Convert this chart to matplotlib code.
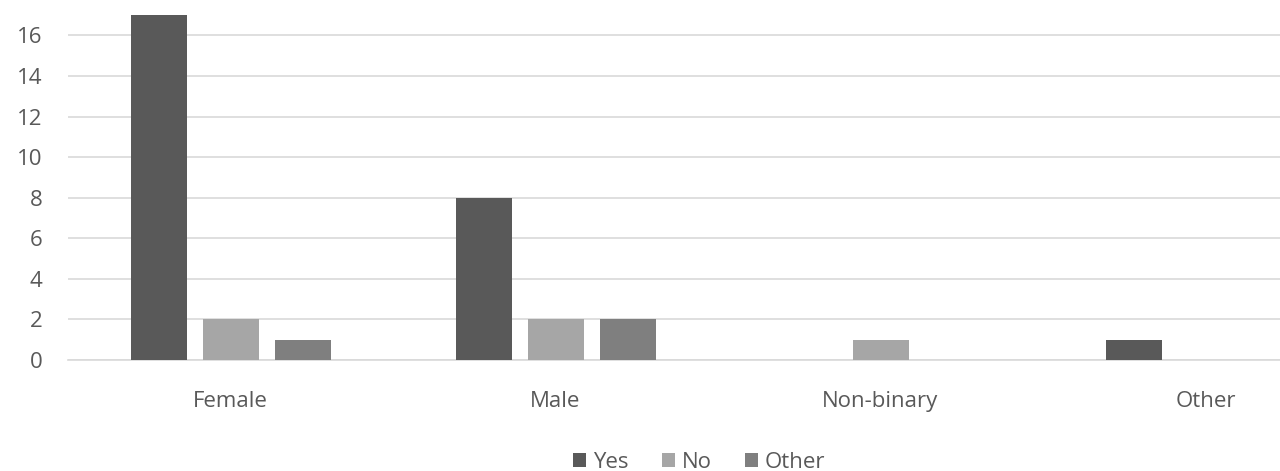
import matplotlib
matplotlib.use("Agg")
import matplotlib.pyplot as plt
import numpy as np

categories = ["Female", "Male", "Non-binary", "Other"]
series_names = ["Yes", "No", "Other"]
yes_vals = [17, 8, 0, 1]
no_vals = [2, 2, 1, 0]
other_vals = [1, 2, 0, 0]
colors = ["#595959", "#a6a6a6", "#7f7f7f"]
yticks = [0, 2, 4, 6, 8, 10, 12, 14, 16]

plt.rcParams['font.family'] = ['Open Sans', 'DejaVu Sans']

fig = plt.figure(figsize=(12.8, 4.71), dpi=100)
W, H = 1280, 471
left_px, right_px = 68, 1368
bottom_px, top_px = 360, 5
ax = fig.add_axes([left_px / W, (H - bottom_px) / H, (right_px - left_px) / W, (bottom_px - top_px) / H])

x = np.arange(len(categories))
offset = 72 / 325
width = 56 / 325
for i, (vals, c, name) in enumerate(zip([yes_vals, no_vals, other_vals], colors, series_names)):
    ax.bar(x + (i - 1) * offset, vals, width=width, color=c, label=name, zorder=3)

ax.set_xlim(-0.5, len(categories) - 0.5)
ax.set_ylim(0, 17.5)
ax.set_yticks(yticks)
ax.set_xticks(x)
ax.set_xticklabels(categories)
ax.yaxis.grid(True, color="#d9d9d9", linewidth=1.2, zorder=0)
ax.set_axisbelow(True)
for s in ["top", "right", "left"]:
    ax.spines[s].set_visible(False)
ax.spines["bottom"].set_color("#d9d9d9")
ax.spines["bottom"].set_linewidth(1.2)
ax.tick_params(axis="y", length=0, pad=18.5, labelsize=16, labelcolor="#595959")
ax.tick_params(axis="x", length=0, pad=22, labelsize=16, labelcolor="#595959")

fig.legend(loc="center", bbox_to_anchor=(699 / W, (H - 462) / H), ncol=3, frameon=False,
           fontsize=16, handlelength=0.6, handleheight=0.6, handletextpad=0.3,
           columnspacing=1.5, labelcolor="#595959")

fig.savefig("out.png", dpi=100)
